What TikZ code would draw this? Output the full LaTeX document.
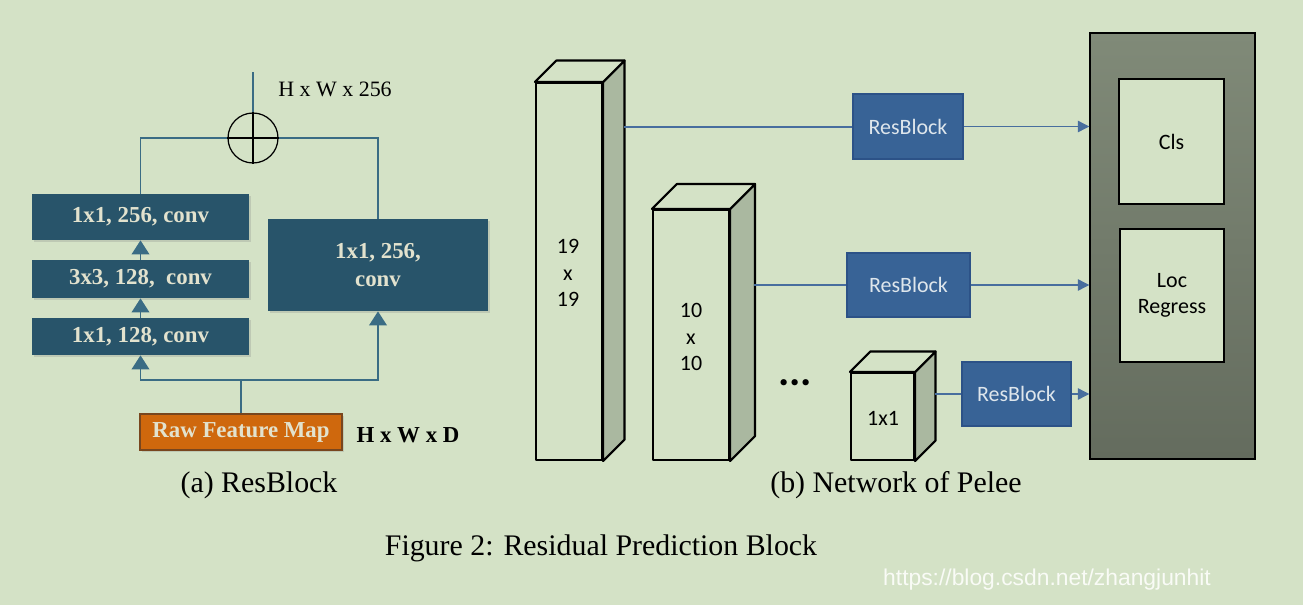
\documentclass[tikz,border=0pt]{standalone}
\usepackage{fontspec}
\setmainfont{Liberation Serif}
\newfontfamily\calfont{Carlito}
\newfontfamily\wmfont{Liberation Sans}
\usetikzlibrary{arrows.meta,shadows}

\definecolor{paper}{RGB}{212,226,198}
\definecolor{convteal}{RGB}{40,84,106}
\definecolor{convtext}{RGB}{226,226,206}
\definecolor{reswire}{RGB}{58,108,132}
\definecolor{rawfill}{RGB}{207,104,13}
\definecolor{rawline}{RGB}{120,70,30}
\definecolor{blockblue}{RGB}{56,99,150}
\definecolor{blockedge}{RGB}{44,82,135}
\definecolor{blocktext}{RGB}{222,230,236}
\definecolor{linkblue}{RGB}{72,110,158}
\definecolor{sideface}{RGB}{170,184,160}
\definecolor{headtop}{RGB}{128,138,120}
\definecolor{headbot}{RGB}{100,108,94}

\tikzset{
	conv/.style={fill=convteal, text=convtext, inner sep=0pt, align=center,
		font=\bfseries\fontsize{13}{16}\selectfont,
		drop shadow={opacity=0.25, shadow xshift=1.2pt, shadow yshift=-1.2pt}},
	res/.style={draw=reswire, line width=1.1pt},
	restip/.style={-{Triangle[width=10pt,length=8pt]}},
	dims/.style={font=\fontsize{12.5}{15}\selectfont},
	cube/.style={draw=black, line width=1.2pt, line join=round},
	cubetext/.style={font=\calfont\fontsize{12.5}{15}\selectfont, align=center},
	resblock/.style={fill=blockblue, draw=blockedge, line width=0.8pt, text=blocktext,
		font=\calfont\fontsize{12.5}{15}\selectfont, inner sep=0pt},
	link/.style={draw=linkblue, line width=0.6pt},
	linktip/.style={-{Triangle[width=6.5pt,length=6.5pt]}},
	task/.style={fill=paper, draw=black, line width=1pt, inner sep=0pt, align=center,
		font=\calfont\fontsize{12.5}{15}\selectfont},
	caption/.style={font=\fontsize{17}{20}\selectfont}
}

\begin{document}
\begin{tikzpicture}[x=0.02cm, y=-0.02cm]
	\fill[paper] (0,0) rectangle (1303,605);
	\useasboundingbox (0,0) rectangle (1303,605);

	% (a) ResBlock
	\node[conv, minimum width=4.34cm, minimum height=0.92cm] (c1) at (140.5,217) {1x1, 256, conv};
	\node[conv, minimum width=4.34cm, minimum height=0.76cm] (c2) at (140.5,279) {3x3, 128,~ conv};
	\node[conv, minimum width=4.34cm, minimum height=0.74cm] (c3) at (140.5,336.5) {1x1, 128, conv};
	\node[conv, minimum width=4.4cm, minimum height=1.84cm] (cr) at (378,265) {1x1, 256,\\conv};
	\node[conv, fill=rawfill, draw=rawline, line width=0.6pt, minimum width=4.04cm, minimum height=0.72cm,
		font=\bfseries\fontsize{13}{15}\selectfont] (raw) at (241,432) {Raw Feature Map};
	\node[circle, draw=black, line width=0.7pt, minimum size=1cm, inner sep=0pt] (plus) at (253,138) {};
	\coordinate (split) at (241,380);
	\coordinate (out) at (253,72);

	\draw[res] (raw.north) -- (split);
	\draw[res,restip] (split) -| (c3.south);
	\draw[res,restip] (split) -| (cr.south);
	\draw[res,restip] (c3.north) -- (c2.south);
	\draw[res,restip] (c2.north) -- (c1.south);
	\draw[res] (c1.north) |- (plus.west);
	\draw[res] (cr.north) |- (plus.east);
	\draw[res] (plus.north) -- (out);
	\draw[black, line width=0.7pt] (plus.west) -- (plus.east) (plus.north) -- (plus.south);

	\node[dims] (outdim) at (335,89) {H x W x 256};
	\node[dims, font=\bfseries\fontsize{13}{15}\selectfont] (rawdim) at (408,435) {H x W x D};

	% (b) Network of Pelee
	\node[cube, fill=paper, minimum width=1.32cm, minimum height=7.54cm, inner sep=0pt] (cubeA) at (569,271.5) {};
	\node[cube, fill=paper, minimum width=1.52cm, minimum height=5.0cm, inner sep=0pt] (cubeB) at (691,335) {};
	\node[cube, fill=paper, minimum width=1.26cm, minimum height=1.74cm, inner sep=0pt] (cubeC) at (882.5,416.5) {};
	\foreach \n/\d in {cubeA/21.5, cubeB/25, cubeC/20.5} {
		\filldraw[cube, fill=sideface] (\n.north east) -- ++(\d,-\d) -- ([shift={(\d,-\d)}]\n.south east) -- (\n.south east) -- cycle;
		\filldraw[cube, fill=paper] (\n.north west) -- ++(\d,-\d) -- ([shift={(\d,-\d)}]\n.north east) -- (\n.north east) -- cycle;
	}
	\node[cubetext] (sizeA) at (568,273) {19\\x\\19};
	\node[cubetext] (sizeB) at (691,337) {10\\x\\10};
	\node[cubetext] (sizeC) at (883,418) {1x1};
	\node[font=\calfont\bfseries\fontsize{24}{24}\selectfont] (more) at (795,383) {...};

	\node[resblock, minimum width=2.2cm, minimum height=1.3cm] (r1) at (908,126.5) {ResBlock};
	\node[resblock, minimum width=2.46cm, minimum height=1.28cm] (r2) at (908.5,285) {ResBlock};
	\node[resblock, minimum width=2.18cm, minimum height=1.28cm] (r3) at (1016.5,394) {ResBlock};

	\node[draw=black, line width=0.8pt, top color=headtop, bottom color=headbot,
		minimum width=3.3cm, minimum height=8.52cm, inner sep=0pt] (head) at (1172.5,246) {};
	\node[task, minimum width=2.1cm, minimum height=2.5cm] (cls) at (1171.5,141.5) {Cls};
	\node[task, minimum width=2.08cm, minimum height=2.66cm] (loc) at (1172,295.5) {Loc\\Regress};

	\coordinate (sA) at (623.5,127);
	\coordinate (sB) at (754,285);
	\coordinate (sC) at (935,394);
	\draw[link] (sA) -- (r1.west |- sA);
	\draw[link] (sB) -- (r2);
	\draw[link] (sC) -- (r3);
	\draw[link,linktip] (r1.east) -- (r1.east -| head.west);
	\draw[link,linktip] (r2.east) -- (r2.east -| head.west);
	\draw[link,linktip] (r3.east) -- (r3.east -| head.west);

	% captions
	\node[caption] (capa) at (259,485) {(a) ResBlock};
	\node[caption] (capb) at (896,485) {(b) Network of Pelee};
	\node[caption] (fig) at (601,548) {Figure 2: Residual Prediction Block};
	\node[text=white!85!paper, font=\wmfont\fontsize{13}{15}\selectfont] (mark) at (1047,580) {https://blog.csdn.net/zhangjunhit};
\end{tikzpicture}
\end{document}
